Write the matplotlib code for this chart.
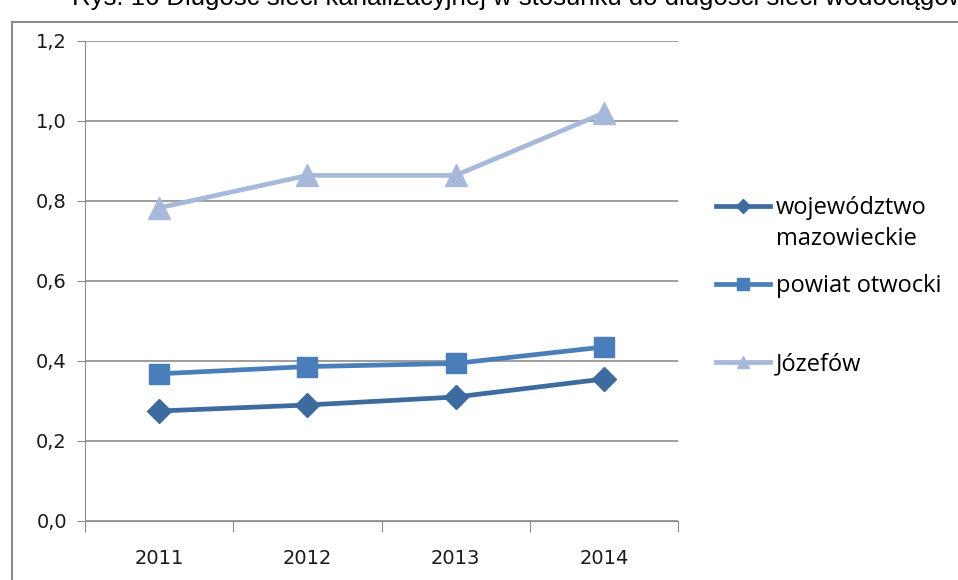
import numpy as np
import matplotlib.pyplot as plt
from matplotlib.patches import Rectangle

years = ["2011", "2012", "2013", "2014"]
wojewodztwo = [0.275, 0.29, 0.31, 0.355]
powiat = [0.368, 0.386, 0.394, 0.435]
jozefow = [0.783, 0.864, 0.864, 1.02]
series_names = ["województwo", "powiat otwocki", "Józefów"]
second_line = "mazowieckie"
y_ticks = [0.0, 0.2, 0.4, 0.6, 0.8, 1.0, 1.2]

fig = plt.figure(figsize=(9.58, 5.8), dpi=100)

# chart frame (cut off at right and bottom in the original)
fig.patches.append(Rectangle((12 / 958, -0.05), 1.1, 1.05 - 22 / 580,
                             transform=fig.transFigure, fill=False,
                             edgecolor="#8c8c8c", linewidth=1.5))

fig.text(72 / 958, 1 - 5 / 580,
         "Rys. 16 Długość sieci kanalizacyjnej w stosunku do długości sieci wodociągowej",
         fontsize=18.5, family="Liberation Sans", va="baseline", ha="left")

ax = fig.add_axes([85 / 958, 1 - 521 / 580, (678 - 85) / 958, 480 / 580])
x = np.arange(len(years))

ax.plot(x, wojewodztwo, color="#3d6a9f", lw=3.4, marker="D", ms=12.5,
        label=series_names[0])
ax.plot(x, powiat, color="#4a7ebb", lw=3.4, marker="s", ms=14.5,
        label=series_names[1])
ax.plot(x, jozefow, color="#a7b9da", lw=3.4, marker="^", ms=15.5,
        label=series_names[2])

ax.set_xlim(-0.5, 3.5)
ax.set_ylim(0, 1.2)
ax.set_yticks(y_ticks)
ax.set_yticklabels([("%.1f" % v).replace(".", ",") for v in y_ticks])
ax.yaxis.grid(True, color="#8c8c8c", lw=1.2)
ax.set_axisbelow(True)

ax.set_xticks(np.arange(-0.5, 4, 1))
ax.set_xticklabels([])
ax.set_xticks(x, minor=True)
ax.set_xticklabels(years, minor=True)
ax.tick_params(axis="x", which="major", length=8, color="#8c8c8c", direction="out")
ax.tick_params(axis="x", which="minor", length=0, pad=20, labelsize=14)
ax.tick_params(axis="y", length=6, color="#8c8c8c", labelsize=14, pad=7)
for lab in ax.get_xticklabels(minor=True) + ax.get_yticklabels():
    lab.set_family("DejaVu Sans")
    lab.set_color("#1a1a1a")

for side in ["top", "right"]:
    ax.spines[side].set_visible(False)
ax.spines["left"].set_color("#8c8c8c")
ax.spines["bottom"].set_color("#8c8c8c")

leg = fig.legend(loc="upper left", bbox_to_anchor=(716 / 958, 1 - 196 / 580),
                 frameon=False, handlelength=2.3, borderpad=0, borderaxespad=0,
                 handletextpad=0.25, labelspacing=2.3, markerscale=0.6,
                 prop={"family": "Open Sans", "size": 17})

fig.canvas.draw()
bb = leg.get_texts()[0].get_window_extent()
fig.text(bb.x0 / 958, (bb.y0 - 31) / 580, second_line,
         family="Open Sans", fontsize=17, va="bottom", ha="left")

fig.savefig("out.png", dpi=100)
